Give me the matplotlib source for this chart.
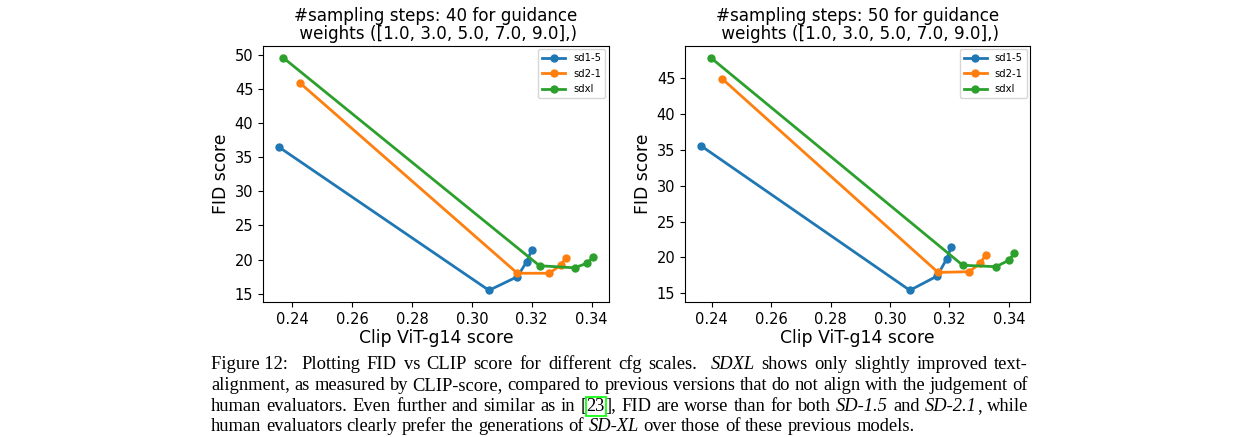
import matplotlib
matplotlib.use("Agg")
import matplotlib.pyplot as plt

# values (CLIP score, FID) for cfg 1,3,5,7,9
clip_40_sd15 = [0.2355, 0.3057, 0.3152, 0.3183, 0.3200]
fid_40_sd15 = [36.5, 15.5, 17.5, 19.7, 21.4]
clip_40_sd21 = [0.2425, 0.3152, 0.3258, 0.3298, 0.3314]
fid_40_sd21 = [45.9, 18.0, 18.0, 19.2, 20.3]
clip_40_sdxl = [0.2369, 0.3226, 0.3343, 0.3386, 0.3405]
fid_40_sdxl = [49.6, 19.1, 18.8, 19.5, 20.4]

clip_50_sd15 = [0.2363, 0.3067, 0.3159, 0.3191, 0.3207]
fid_50_sd15 = [35.6, 15.4, 17.4, 19.8, 21.5]
clip_50_sd21 = [0.2436, 0.3162, 0.3267, 0.3304, 0.3323]
fid_50_sd21 = [44.9, 17.9, 18.0, 19.2, 20.4]
clip_50_sdxl = [0.2396, 0.3245, 0.3357, 0.3400, 0.3419]
fid_50_sdxl = [47.9, 18.9, 18.7, 19.6, 20.6]

labels = ["sd1-5", "sd2-1", "sdxl"]
steps = [40, 50]

fig = plt.figure(figsize=(12.35, 4.37), dpi=100)
ax1 = fig.add_axes([0.213, 0.309, 0.280, 0.586])
ax2 = fig.add_axes([0.5547, 0.309, 0.2794, 0.586])

panels = [
    (ax1, [(clip_40_sd15, fid_40_sd15), (clip_40_sd21, fid_40_sd21), (clip_40_sdxl, fid_40_sdxl)]),
    (ax2, [(clip_50_sd15, fid_50_sd15), (clip_50_sd21, fid_50_sd21), (clip_50_sdxl, fid_50_sdxl)]),
]
for (ax, series), st in zip(panels, steps):
    for (x, y), lab in zip(series, labels):
        ax.plot(x, y, marker='o', markersize=5, linewidth=2, label=lab)
    ax.set_title("#sampling steps: %d for guidance\n weights ([1.0, 3.0, 5.0, 7.0, 9.0],)" % st,
                 fontsize=12.1, linespacing=1.0, pad=5)
    ax.set_xlabel("Clip ViT-g14 score", fontsize=12.4, labelpad=2)
    ax.set_ylabel("FID score", fontsize=12.4, labelpad=3)
    ax.set_xticks([0.24, 0.26, 0.28, 0.30, 0.32, 0.34])
    ax.set_xticklabels(["0.24", "0.26", "0.28", "0.30", "0.32", "0.34"])
    ax.tick_params(labelsize=10.5)
    ax.legend(loc='upper right', fontsize=7.2, handlelength=2.3, labelspacing=0.55,
              borderaxespad=0.35)

ax1.set_yticks([15, 20, 25, 30, 35, 40, 45, 50])
ax2.set_yticks([15, 20, 25, 30, 35, 40, 45])

# caption, drawn word by word so it can be justified
caption = [
    [[("Figure 12:", 0, 0)], [("", 0, 0)], [("Plotting", 0, 0)], [("FID", 0, 0)], [("vs", 0, 0)], [("CLIP", 0, 0)],
     [("score", 0, 0)], [("for", 0, 0)], [("different", 0, 0)], [("cfg", 0, 0)], [("scales.", 0, 0)],
     [("", 0, 0)], [("SDXL", 1, 0)], [("shows", 0, 0)], [("only", 0, 0)], [("slightly", 0, 0)],
     [("improved", 0, 0)], [("text-", 0, 0)]],
    [[(w, 0, 0)] for w in "alignment, as measured by CLIP-score, compared to previous versions that do not align with the judgement of".split()],
    [[(w, 0, 0)] for w in "human evaluators. Even further and similar as in".split()]
    + [[("[", 0, 0), ("23", 0, 1), ("],", 0, 0)], [("FID", 0, 0)], [("are", 0, 0)], [("worse", 0, 0)],
       [("than", 0, 0)], [("for", 0, 0)], [("both", 0, 0)], [("SD-1.5", 1, 0)], [("and", 0, 0)],
       [("SD-2.1", 1, 0), (",", 0, 0)], [("while", 0, 0)]],
    [[(w, 0, 0)] for w in "human evaluators clearly prefer the generations of".split()]
    + [[("SD-XL", 1, 0)]] + [[(w, 0, 0)] for w in "over those of these previous models.".split()],
]
cap_left = 211
cap_right = 1028
baselines = [369, 390, 411, 431]
H = 437
fs = 13.3
renderer = fig.canvas.get_renderer()


def piece_width(txt, it):
    if txt == "":
        return 0.0
    t = fig.text(0, 0, txt, fontsize=fs, family="Liberation Serif", style='italic' if it else 'normal')
    w = t.get_window_extent(renderer).width
    t.remove()
    return w


space_w = piece_width("a b", 0) - piece_width("ab", 0)
for li, (line, base) in enumerate(zip(caption, baselines)):
    widths = [sum(piece_width(p[0], p[1]) for p in word) for word in line]
    if li < len(caption) - 1:
        gap = (cap_right - cap_left - sum(widths)) / (len(line) - 1)
    else:
        gap = space_w
    x = cap_left
    for word, wd in zip(line, widths):
        px = x
        for txt, it, boxed in word:
            if txt:
                kw = {}
                if boxed:
                    kw['bbox'] = dict(boxstyle='square,pad=0.05', fc='none', ec='#00ff00', lw=1.2)
                fig.text(px / 1235, 1 - base / H, txt, fontsize=fs, family="Liberation Serif",
                         style='italic' if it else 'normal', va='baseline', ha='left', **kw)
            px += piece_width(txt, it)
        x += wd + gap

fig.savefig("out.png", dpi=100)
